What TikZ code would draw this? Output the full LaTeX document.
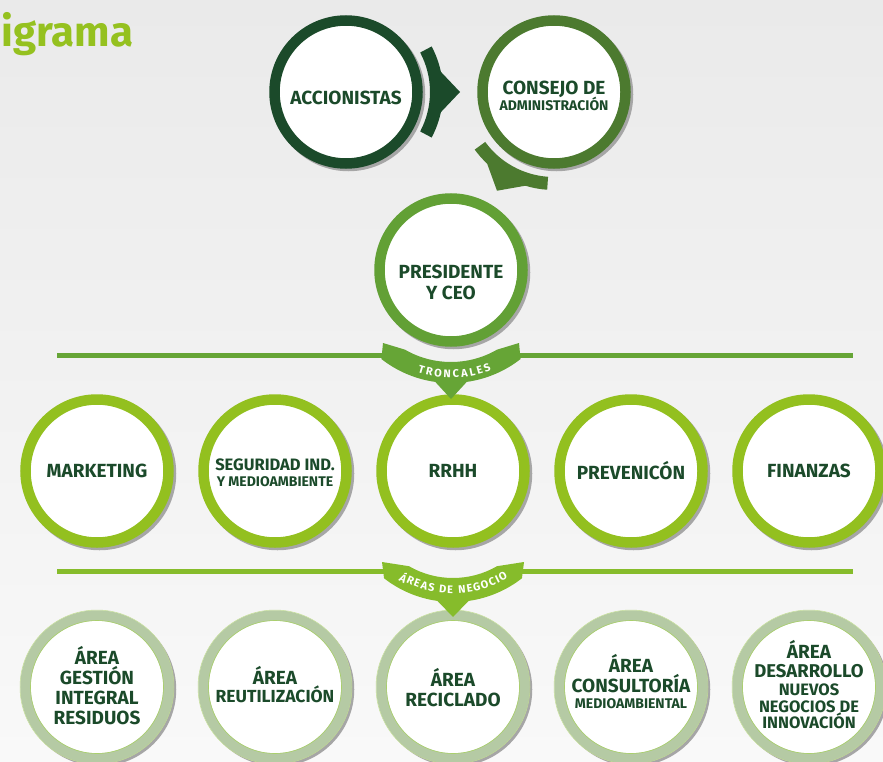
\documentclass[tikz,border=0pt]{standalone}
\usepackage{fontspec}
\setmainfont{Fira Sans}
\usetikzlibrary{calc}

\definecolor{bgtop}{HTML}{EAEAEA}
\definecolor{bgbottom}{HTML}{F9F9F9}
\definecolor{textgreen}{HTML}{1B4A2A}
\definecolor{accgreen}{HTML}{1B4A2A}
\definecolor{boardgreen}{HTML}{4C7A2F}
\definecolor{presgreen}{HTML}{62A035}
\definecolor{trunkgreen}{HTML}{66A536}
\definecolor{limering}{HTML}{93C01F}
\definecolor{bizgreen}{HTML}{86BC2B}
\definecolor{sagering}{HTML}{B5CAA4}
\definecolor{titlelime}{HTML}{95C11F}

\newcommand{\txtM}{\fontsize{16.5}{18}\selectfont}
\newcommand{\txtN}{\fontsize{16.5}{18}\selectfont}
\newcommand{\txtS}{\fontsize{14}{16}\selectfont}

\tikzset{
    ring/.style={circle, minimum size=143pt, inner sep=0pt, line width=10.5pt,
        draw=#1, fill=white,
        preaction={draw=black!35, line width=10.5pt,
            transform canvas={xshift=2.5pt, yshift=-2.5pt}}},
    ringtext/.style={text=textgreen, align=center, inner sep=0pt,
        font=\bfseries\fontsize{19}{20}\selectfont},
    rule/.style={line width=5pt},
    bandtext/.style={text=white, font=\bfseries\fontsize{11}{12}\selectfont, inner sep=0pt}
}

\begin{document}
\begin{tikzpicture}[x=1pt, y=1pt]
    % page
    \clip (0,0) rectangle (883,-762);
    \shade[top color=bgtop, bottom color=bgbottom] (0,0) rectangle (883,-762);
    \node[anchor=base west, text=titlelime, font=\bfseries\fontsize{42}{44}\selectfont, inner sep=0pt] (title) at (1,-47) {igrama};

    % top
    \node[ring=accgreen] (acc) at (346,-92) {};
    \node[ringtext] (acctxt) at ($(acc)+(0,-6)$) {ACCIONISTAS};
    \node[ring=boardgreen] (board) at (554,-92) {};
    \node[ringtext] (boardtxt) at ($(board)+(0,-3.5)$) {CONSEJO DE\\[-4pt]{\txtS ADMINISTRACIÓN}};
    \node[ring=presgreen] (pres) at (451,-270) {};
    \node[ringtext] (prestxt) at ($(pres)+(0,-12)$) {PRESIDENTE\\[1pt]Y CEO};

    % arrows
    \fill[accgreen] ($(acc)+(-28:84)$) arc[start angle=-28, end angle=28, radius=84]
        -- ($(acc)+(28:97)$) arc[start angle=28, end angle=12, radius=97]
        -- ($(acc)+(0:114)$) -- ($(acc)+(-12:97)$)
        arc[start angle=-12, end angle=-28, radius=97] -- cycle;
    \fill[boardgreen] ($(board)+(216:85)$) arc[start angle=216, end angle=266, radius=85]
        -- ($(board)+(266:98)$) arc[start angle=266, end angle=253, radius=98]
        -- ($(board)+(240:114)$) -- ($(board)+(227:98)$)
        arc[start angle=227, end angle=216, radius=98] -- cycle;

    % troncales
    \foreach \x/\n/\dy/\t in {97/mkt/0/{MARKETING},
                              275/seg/-2/{{\txtM SEGURIDAD IND.}\\[-4pt]{\txtS Y MEDIOAMBIENTE}},
                              453/rrhh/0/{RRHH},
                              631/prev/0/{PREVENICÓN},
                              809/fin/0/{FINANZAS}} {
        \node[ring=limering] (\n) at (\x,-471) {};
        \node[ringtext] (txt\n) at ($(\n)+(0,\dy)$) {\t};
    }

    % areas de negocio
    \foreach \x/\n/\dy/\t in {97/gir/1/{ÁREA\\GESTIÓN\\INTEGRAL\\RESIDUOS},
                              275/reu/2/{ÁREA\\[-2pt]{\fontsize{17.5}{18}\selectfont REUTILIZACIÓN}},
                              453/rec/-1/{ÁREA\\RECICLADO},
                              631/con/5/{ÁREA\\CONSULTORÍA\\[-4pt]{\txtS MEDIOAMBIENTAL}},
                              809/des/2.5/{ÁREA\\[-1pt]{\fontsize{18.5}{19}\selectfont DESARROLLO}\\[-2pt]{\txtN NUEVOS}\\[-3pt]{\txtN NEGOCIOS DE}\\[-4pt]{\txtN INNOVACIÓN}}} {
        \node[ring=sagering] (\n) at (\x,-687) {};
        \draw[bizgreen!70, line width=0.6pt] (\n) circle (66.5);
        \draw[bizgreen!50, line width=0.5pt] (\n) circle (77);
        \node[ringtext] (txt\n) at ($(\n)+(0,\dy)$) {\t};
    }

    % rules
    \coordinate (q) at ($(rrhh)+(0,-19)$);
    \coordinate (r1w) at (57,-355);
    \coordinate (r1e) at (853,-355);
    \coordinate (r2w) at (57,-571);
    \coordinate (r2e) at (853,-571);
    \draw[rule, trunkgreen] (r1w) -- ($(pres)+(-66,-85)$);
    \draw[rule, trunkgreen] ($(pres)+(66,-85)$) -- (r1e);
    \draw[rule, bizgreen] (r2w) -- ($(q)+(-68,-81)$);
    \draw[rule, bizgreen] ($(q)+(68,-81)$) -- (r2e);

    % banners
    \fill[trunkgreen] ($(pres)+(-68,-73)$) -- ($(pres)+(240:92)$) arc[start angle=240, end angle=300, radius=92]
        -- ($(pres)+(68,-73)$) -- ($(pres)+(308:113)$) arc[start angle=308, end angle=278, radius=113]
        -- ($(pres)+(270:129)$) -- ($(pres)+(262:113)$)
        arc[start angle=262, end angle=232, radius=113] -- cycle;
    \fill[bizgreen] ($(q)+(-71,-72)$) -- ($(q)+(240:88)$) arc[start angle=240, end angle=300, radius=88]
        -- ($(q)+(71,-72)$) -- ($(q)+(308:112)$) arc[start angle=308, end angle=278, radius=112]
        -- ($(q)+(270:127)$) -- ($(q)+(262:112)$)
        arc[start angle=262, end angle=232, radius=112] -- cycle;

    \foreach \ch/\a [count=\i] in {T/253.5, R/258.1, O/262.9, N/267.9, C/272.7,
                                   A/277.4, L/281.9, E/286.0, S/290.2}
        \node[bandtext, rotate=\a-270] (t\i) at ($(pres)+(\a:104)$) {\ch};
    \foreach \ch/\a [count=\i] in {Á/240.5, R/244.9, E/249.0, A/253.3, S/257.6,
                                   D/264.2, E/268.4, N/275.1, E/279.5, G/283.7,
                                   O/288.4, C/293.0, I/296.3, O/299.9}
        \node[bandtext, rotate=\a-270] (n\i) at ($(q)+(\a:100)$) {\ch};
\end{tikzpicture}
\end{document}
